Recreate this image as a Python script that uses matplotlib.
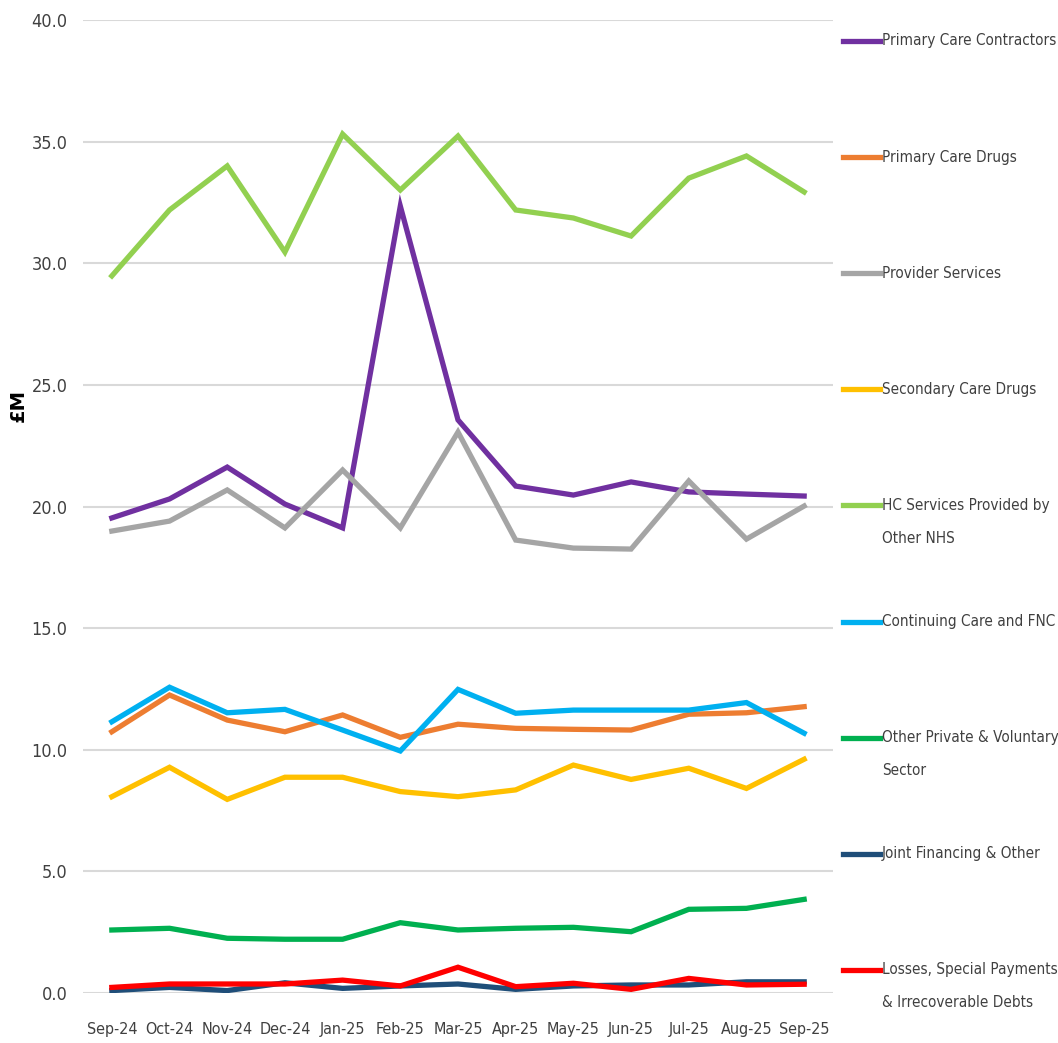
import matplotlib.pyplot as plt
from matplotlib.lines import Line2D

plt.rcParams['font.family'] = ['DejaVu Sans']
plt.rcParams['font.stretch'] = 'condensed'

months = ['Sep-24', 'Oct-24', 'Nov-24', 'Dec-24', 'Jan-25', 'Feb-25', 'Mar-25',
          'Apr-25', 'May-25', 'Jun-25', 'Jul-25', 'Aug-25', 'Sep-25']

primary_care_contractors = [19.53, 20.31, 21.62, 20.10, 19.12, 32.35, 23.56, 20.84, 20.47, 21.01, 20.60, 20.51, 20.43]
primary_care_drugs = [10.74, 12.25, 11.22, 10.74, 11.43, 10.51, 11.05, 10.88, 10.84, 10.81, 11.46, 11.52, 11.77]
provider_services = [18.99, 19.40, 20.68, 19.12, 21.50, 19.12, 23.06, 18.62, 18.29, 18.25, 21.05, 18.66, 20.02]
secondary_care_drugs = [8.07, 9.28, 7.96, 8.87, 8.87, 8.28, 8.07, 8.35, 9.37, 8.78, 9.24, 8.41, 9.61]
hc_other_nhs = [29.48, 32.19, 34.00, 30.46, 35.31, 33.01, 35.23, 32.19, 31.86, 31.12, 33.50, 34.41, 32.93]
continuing_care = [11.15, 12.57, 11.52, 11.66, 10.81, 9.95, 12.48, 11.50, 11.63, 11.63, 11.63, 11.94, 10.68]
other_private = [2.59, 2.66, 2.25, 2.21, 2.21, 2.89, 2.59, 2.66, 2.70, 2.52, 3.44, 3.48, 3.85]
joint_financing = [0.10, 0.23, 0.10, 0.42, 0.19, 0.29, 0.37, 0.15, 0.29, 0.33, 0.33, 0.46, 0.46]
losses_special = [0.23, 0.37, 0.37, 0.37, 0.53, 0.29, 1.06, 0.26, 0.40, 0.15, 0.60, 0.33, 0.36]

series = [
    ('Primary Care Contractors', primary_care_contractors, '#7030A0'),
    ('Primary Care Drugs', primary_care_drugs, '#ED7D31'),
    ('Provider Services', provider_services, '#A5A5A5'),
    ('Secondary Care Drugs', secondary_care_drugs, '#FFC000'),
    ('HC Services Provided by\nOther NHS', hc_other_nhs, '#92D050'),
    ('Continuing Care and FNC', continuing_care, '#00B0F0'),
    ('Other Private & Voluntary\nSector', other_private, '#00B050'),
    ('Joint Financing & Other', joint_financing, '#1F4E79'),
    ('Losses, Special Payments\n& Irrecoverable Debts', losses_special, '#FF0000'),
]

W, H = 1058, 1043
fig = plt.figure(figsize=(W / 100, H / 100), dpi=100)
ax = fig.add_axes([83 / W, 50 / H, 750 / W, 973 / H])

x = list(range(len(months)))
for label, values, color in series:
    ax.plot(x, values, color=color, lw=3.8, solid_joinstyle='miter', label=label)

ax.set_xlim(-0.5, len(months) - 0.5)
ax.set_ylim(0, 40)
ax.set_yticks(range(0, 41, 5))
ax.set_yticklabels([f'{v:.1f}' for v in range(0, 41, 5)])
ax.set_xticks(x)
ax.set_xticklabels(months)
ax.tick_params(axis='both', length=0, colors='#404040')
ax.tick_params(axis='y', pad=11, labelsize=13)
ax.tick_params(axis='x', pad=21, labelsize=11.5)
ax.grid(axis='y', color='#D9D9D9', lw=1.5)
ax.set_axisbelow(True)
for s in ax.spines.values():
    s.set_visible(False)

fig.text(18 / W, 1 - 405 / H, '£M', rotation=90, fontsize=14, fontweight='bold',
         fontstretch='normal', ha='center', va='center')

# legend entries spread down the right-hand side
for i, (label, values, color) in enumerate(series):
    yc = 41 + i * 116.1
    fig.add_artist(Line2D([843 / W, 880 / W], [1 - yc / H] * 2, color=color, lw=3.8,
                          transform=fig.transFigure))
    for j, part in enumerate(label.split('\n')):
        fig.text(882 / W, 1 - (yc + j * 33) / H, part, fontsize=11, color='#404040',
                 ha='left', va='center')

fig.savefig('out.png', dpi=100)
